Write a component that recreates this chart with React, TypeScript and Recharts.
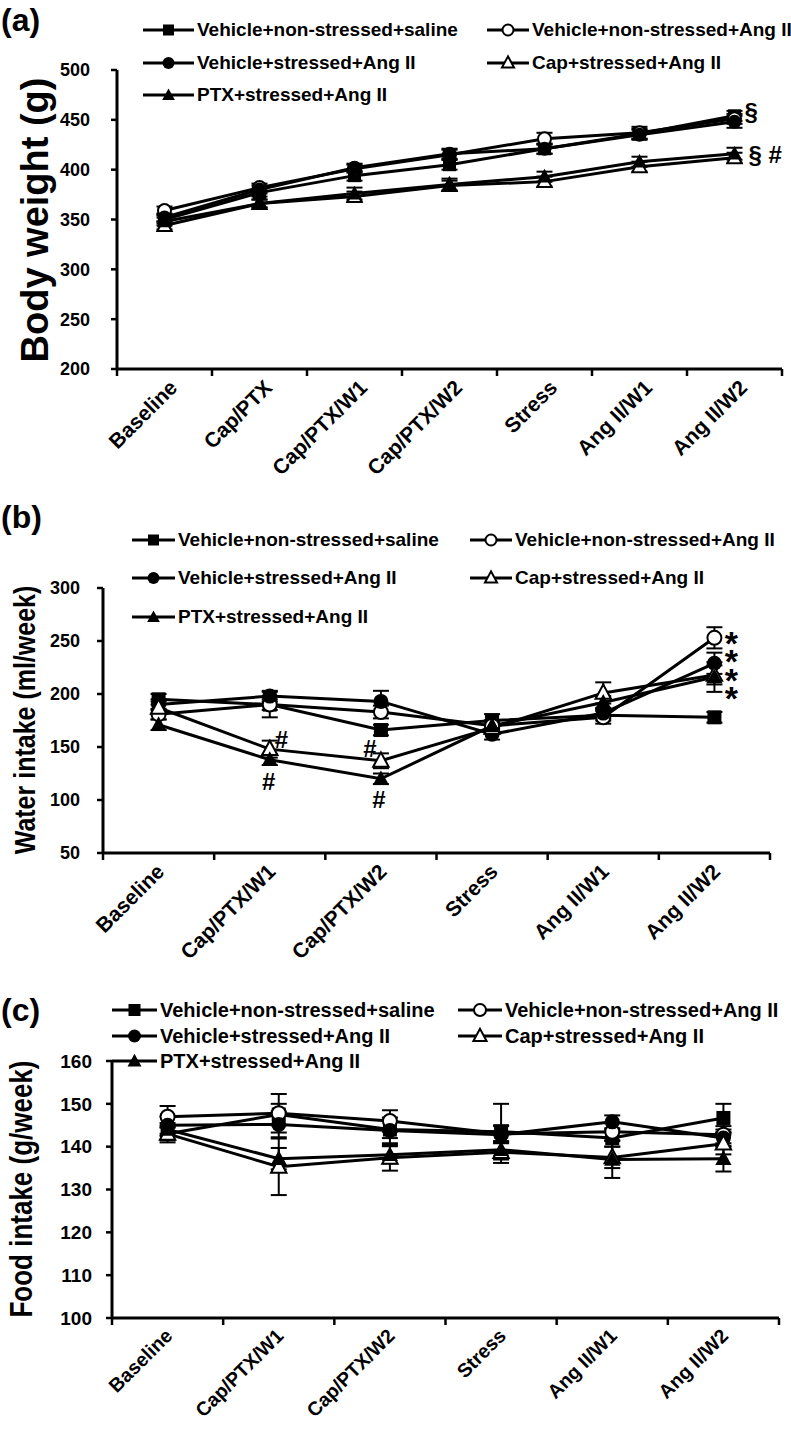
import React from 'react';
import { LineChart, Line, XAxis, YAxis, ErrorBar, LabelList } from 'recharts';

const FONT = '"Liberation Sans", Arial, Helvetica, sans-serif';

// ---------- shared series meta ----------
const seriesNames = [
  'Vehicle+non-stressed+saline',
  'Vehicle+non-stressed+Ang II',
  'Vehicle+stressed+Ang II',
  'Cap+stressed+Ang II',
  'PTX+stressed+Ang II',
];
const seriesKeys = ['saline', 'nsAng', 'sAng', 'cap', 'ptx'];
const markerTypes = ['square', 'openCircle', 'circle', 'openTriangle', 'triangle'];

// ---------- panel (a): body weight ----------
const catsA = ['Baseline', 'Cap/PTX', 'Cap/PTX/W1', 'Cap/PTX/W2', 'Stress', 'Ang II/W1', 'Ang II/W2'];
const ticksA = [200, 250, 300, 350, 400, 450, 500];
const bwSaline = [350, 377, 394, 405, 421, 436, 454];
const bwNsAng = [359, 382, 401, 415, 431, 437, 451];
const bwSAng = [352, 380, 402, 416, 421, 435, 448];
const bwCap = [344, 366, 373, 384, 388, 403, 412];
const bwPtx = [348, 366, 376, 385, 393, 408, 416];
const bwSalineErr = [4, 4, 5, 5, 5, 5, 5];
const bwNsAngErr = [4, 4, 4, 5, 6, 6, 5];
const bwSAngErr = [4, 4, 4, 5, 5, 5, 6];
const bwCapErr = [4, 4, 5, 5, 5, 5, 5];
const bwPtxErr = [4, 4, 6, 6, 5, 5, 6];

// ---------- panel (b): water intake ----------
const catsBC = ['Baseline', 'Cap/PTX/W1', 'Cap/PTX/W2', 'Stress', 'Ang II/W1', 'Ang II/W2'];
const ticksB = [50, 100, 150, 200, 250, 300];
const wiSaline = [195, 190, 166, 175, 180, 178];
const wiNsAng = [181, 190, 183, 170, 178, 253];
const wiSAng = [190, 198, 193, 162, 182, 229];
const wiCap = [187, 148, 137, 168, 201, 218];
const wiPtx = [171, 138, 120, 170, 192, 216];
const wiSalineErr = [5, 5, 5, 6, 5, 5];
const wiNsAngErr = [5, 12, 6, 5, 6, 10];
const wiSAngErr = [5, 5, 10, 5, 5, 10];
const wiCapErr = [6, 8, 7, 5, 10, 9];
const wiPtxErr = [5, 5, 5, 5, 6, 14];

// ---------- panel (c): food intake ----------
const ticksC = [100, 110, 120, 130, 140, 150, 160];
const fiSaline = [143, 147.5, 144, 143.5, 142, 146.7];
const fiNsAng = [147, 147.8, 146, 143, 143.5, 142.8];
const fiSAng = [145, 145.2, 143.8, 142.8, 145.8, 142];
const fiCap = [143, 135.3, 137.4, 138.7, 137.5, 140.7];
const fiPtx = [144, 137.2, 138.1, 139.3, 137, 137.2];
const fiSalineErr = [1.5, 2.5, 2, 6.5, 2, 3.3];
const fiNsAngErr = [2.5, 4.5, 2.5, 2, 2, 2];
const fiSAngErr = [2, 3, 3, 2, 1.5, 2];
const fiCapErr = [2, 6.6, 3, 2.5, 2.5, 2.5];
const fiPtxErr = [1.5, 2.5, 2, 2, 4.3, 3];

// ---------- annotations (significance marks) ----------
const annotA = [
  { key: 'saline', idx: 6, text: '§', dx: 10, dy: 4, anchor: 'start', fs: 24 },
  { key: 'ptx', idx: 6, text: '§ #', dx: 14, dy: 9, anchor: 'start', fs: 24 },
];
const annotB = [
  { key: 'cap', idx: 1, text: '#', dx: 5, dy: -1, anchor: 'start', fs: 24 },
  { key: 'ptx', idx: 1, text: '#', dx: -1, dy: 30, anchor: 'middle', fs: 24 },
  { key: 'cap', idx: 2, text: '#', dx: -11, dy: -4, anchor: 'middle', fs: 24 },
  { key: 'ptx', idx: 2, text: '#', dx: -2, dy: 29, anchor: 'middle', fs: 24 },
  { key: 'nsAng', idx: 5, text: '*', dx: 17, dy: 0, anchor: 'middle', fs: 34, lines: [17, 35, 54, 72] },
];

function buildRows(cats: string[], vals: number[][], errs: number[][]) {
  return cats.map((c, i) => {
    const r: any = { x: i + 0.5, cat: c };
    seriesKeys.forEach((k, s) => {
      r[k] = vals[s][i];
      r[k + 'Err'] = errs[s][i];
    });
    return r;
  });
}

const rowsA = buildRows(catsA, [bwSaline, bwNsAng, bwSAng, bwCap, bwPtx], [bwSalineErr, bwNsAngErr, bwSAngErr, bwCapErr, bwPtxErr]);
const rowsB = buildRows(catsBC, [wiSaline, wiNsAng, wiSAng, wiCap, wiPtx], [wiSalineErr, wiNsAngErr, wiSAngErr, wiCapErr, wiPtxErr]);
const rowsC = buildRows(catsBC, [fiSaline, fiNsAng, fiSAng, fiCap, fiPtx], [fiSalineErr, fiNsAngErr, fiSAngErr, fiCapErr, fiPtxErr]);

function Marker({ type, cx, cy, size }: any) {
  const s = size;
  switch (type) {
    case 'square':
      return <rect x={cx - s / 2} y={cy - s / 2} width={s} height={s} fill="#000" />;
    case 'circle':
      return <circle cx={cx} cy={cy} r={s / 2 + 0.5} fill="#000" />;
    case 'openCircle':
      return <circle cx={cx} cy={cy} r={s / 2} fill="#fff" stroke="#000" strokeWidth={2} />;
    case 'triangle': {
      const pts = `${cx},${cy - s * 0.6} ${cx - s * 0.58},${cy + s * 0.45} ${cx + s * 0.58},${cy + s * 0.45}`;
      return <polygon points={pts} fill="#000" />;
    }
    case 'openTriangle': {
      const pts = `${cx},${cy - s * 0.6} ${cx - s * 0.55},${cy + s * 0.42} ${cx + s * 0.55},${cy + s * 0.42}`;
      return <polygon points={pts} fill="#fff" stroke="#000" strokeWidth={2} />;
    }
    default:
      return null;
  }
}

const makeDot = (type: string, size: number) => (props: any) => {
  const { cx, cy, index } = props;
  if (cx == null || cy == null) return <g key={`d${index}`} />;
  return <Marker key={`d${type}${index}`} type={type} cx={cx} cy={cy} size={size} />;
};

const makeAnnot = (annots: any[], key: string) => (lp: any) => {
  const a = annots.find((q) => q.key === key && q.idx === lp.index);
  if (!a) return null;
  const x = lp.x != null ? lp.x : lp.viewBox?.x;
  const y = lp.y != null ? lp.y : lp.viewBox?.y;
  if (a.lines) {
    return (
      <text key={`a${key}${lp.index}`} textAnchor={a.anchor} fontSize={a.fs} fontWeight={700} fontFamily={FONT} fill="#000">
        {a.lines.map((off: number, i: number) => (
          <tspan key={i} x={x + a.dx} y={y + off}>
            {a.text}
          </tspan>
        ))}
      </text>
    );
  }
  return (
    <text
      key={`a${key}${lp.index}`}
      x={x + a.dx}
      y={y + a.dy}
      textAnchor={a.anchor}
      fontSize={a.fs}
      fontWeight={700}
      fontFamily={FONT}
      fill="#000"
    >
      {a.text}
    </text>
  );
};

function Panel(p: any) {
  const n = p.cats.length;
  const xTicks: number[] = [];
  for (let i = 0; i <= 2 * n; i++) xTicks.push(i / 2);
  const renderXTick = (tp: any) => {
    const { x, y, payload, index } = tp;
    const v = payload.value;
    if (Math.abs(v - Math.round(v)) < 1e-6) {
      return <line key={`t${index}`} x1={x} x2={x} y1={y} y2={y + 7} stroke="#000" strokeWidth={2.5} />;
    }
    const label = p.cats[Math.floor(v)];
    return (
      <text
        key={`t${index}`}
        transform={`translate(${x + p.labDx},${y + p.labDy}) rotate(-45)`}
        textAnchor="end"
        fontSize={p.catFs}
        fontWeight={700}
        fontFamily={FONT}
        fill="#000"
      >
        {label}
      </text>
    );
  };
  return (
    <div style={{ position: 'absolute', left: 0, top: p.top }}>
      <LineChart
        width={791}
        height={p.height}
        data={p.rows}
        margin={{ top: p.mTop, right: p.mRight, bottom: p.mBottom, left: 0 }}
      >
        <XAxis
          type="number"
          dataKey="x"
          domain={[0, n]}
          ticks={xTicks}
          interval={0}
          allowDecimals
          tickLine={false}
          tickSize={0}
          tickMargin={0}
          tick={renderXTick}
          axisLine={{ stroke: '#000', strokeWidth: 3 }}
          height={p.xAxisH}
        />
        <YAxis
          type="number"
          domain={p.yDomain}
          ticks={p.yTicks}
          interval={0}
          width={p.yAxisW}
          tickSize={6}
          tickMargin={p.yTickMargin}
          tickLine={{ stroke: '#000', strokeWidth: 2.5 }}
          axisLine={{ stroke: '#000', strokeWidth: 3 }}
          tick={{ fill: '#000', fontSize: p.tickFs, fontWeight: 700, fontFamily: FONT }}
        />
        {seriesKeys.map((k, s) => (
          <Line
            key={k}
            type="linear"
            dataKey={k}
            name={seriesNames[s]}
            stroke="#000"
            strokeWidth={p.lineW}
            isAnimationActive={false}
            dot={makeDot(markerTypes[s], p.markerSize)}
            activeDot={false}
          >
            <ErrorBar dataKey={k + 'Err'} width={p.capW} strokeWidth={2} stroke="#000" direction="y" />
            <LabelList dataKey={k} content={makeAnnot(p.annots, k)} />
          </Line>
        ))}
      </LineChart>
    </div>
  );
}

function LegendBlock({ icons, texts, rows, fs, markerSize }: any) {
  return (
    <>
      {seriesNames.map((name, i) => {
        const row = Math.floor(i / 2);
        const col = i % 2;
        const left = icons[col];
        const iconW = texts[col] - icons[col] - 3;
        const cy = rows[row];
        return (
          <div
            key={name}
            style={{
              position: 'absolute',
              left,
              top: cy - 12,
              height: 24,
              display: 'flex',
              alignItems: 'center',
              whiteSpace: 'nowrap',
              fontFamily: FONT,
              fontWeight: 700,
              fontSize: fs,
              color: '#000',
            }}
          >
            <svg width={iconW} height={24} style={{ display: 'block', marginRight: 3 }}>
              <line x1={0} x2={iconW} y1={12} y2={12} stroke="#000" strokeWidth={3} />
              <Marker type={markerTypes[i]} cx={iconW / 2} cy={12} size={markerSize} />
            </svg>
            <span>{name}</span>
          </div>
        );
      })}
    </>
  );
}

export default function App() {
  return (
    <div
      style={{
        position: 'absolute',
        left: 0,
        top: 0,
        width: 791,
        height: 1429,
        background: '#fff',
        overflow: 'hidden',
        fontFamily: FONT,
      }}
    >
      <Panel
        top={0}
        height={520}
        rows={rowsA}
        cats={catsA}
        yDomain={[200, 500]}
        yTicks={ticksA}
        mTop={70}
        mRight={9}
        mBottom={71}
        xAxisH={80}
        yAxisW={117}
        yTickMargin={21}
        tickFs={18}
        catFs={21}
        labDx={14}
        labDy={20}
        lineW={3}
        markerSize={13}
        capW={8}
        annots={annotA}
      />
      <Panel
        top={460}
        height={560}
        rows={rowsB}
        cats={catsBC}
        yDomain={[50, 300]}
        yTicks={ticksB}
        mTop={128}
        mRight={21}
        mBottom={87}
        xAxisH={80}
        yAxisW={103}
        yTickMargin={17}
        tickFs={18}
        catFs={21}
        labDx={7}
        labDy={20}
        lineW={3}
        markerSize={14}
        capW={8}
        annots={annotB}
      />
      <Panel
        top={960}
        height={469}
        rows={rowsC}
        cats={catsBC}
        yDomain={[100, 160]}
        yTicks={ticksC}
        mTop={101}
        mRight={12}
        mBottom={21}
        xAxisH={90}
        yAxisW={112}
        yTickMargin={14}
        tickFs={19}
        catFs={19.5}
        labDx={6}
        labDy={19}
        lineW={3}
        markerSize={14}
        capW={8}
        annots={[]}
      />

      <LegendBlock icons={[143, 487]} texts={[197, 532]} rows={[30, 63, 95]} fs={19} markerSize={11} />
      <LegendBlock icons={[132, 470]} texts={[178, 515]} rows={[540, 578, 617]} fs={19} markerSize={11} />
      <LegendBlock icons={[112, 458]} texts={[160, 505]} rows={[1010, 1036, 1061]} fs={20} markerSize={12} />

      <svg width={791} height={1429} style={{ position: 'absolute', left: 0, top: 0, pointerEvents: 'none' }}>
        <g fontFamily={FONT} fontWeight={700} fill="#000">
          <text x={1} y={31} fontSize={32}>(a)</text>
          <text x={1} y={528} fontSize={32}>(b)</text>
          <text x={1} y={1021} fontSize={32}>(c)</text>
          <text transform="translate(35,220) rotate(-90)" textAnchor="middle" dominantBaseline="central" fontSize={38}>
            Body weight (g)
          </text>
          <text transform="translate(25,720) rotate(-90) scale(1,1.2)" textAnchor="middle" dominantBaseline="central" fontSize={25}>
            Water intake (ml/week)
          </text>
          <text transform="translate(21,1189) rotate(-90) scale(1,1.2)" textAnchor="middle" dominantBaseline="central" fontSize={26}>
            Food intake (g/week)
          </text>
        </g>
      </svg>
    </div>
  );
}
